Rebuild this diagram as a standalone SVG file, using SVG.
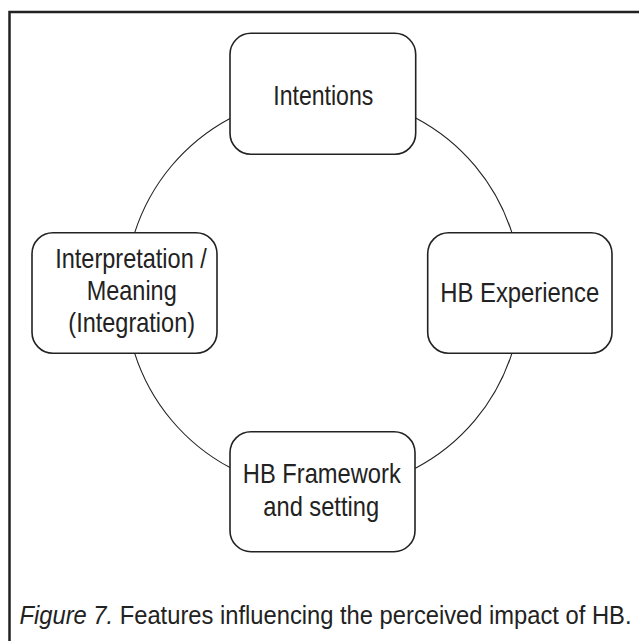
<svg xmlns="http://www.w3.org/2000/svg" width="639" height="641" viewBox="0 0 639 641">
<style>
.box{fill:#fff;stroke:#222;stroke-width:1.6}
.arc{fill:none;stroke:#222;stroke-width:1.1}
.lbl{font-family:"Liberation Sans Narrow","Liberation Sans",Arial,sans-serif;font-size:28.5px;fill:#222;text-anchor:middle}
.cap{font-family:"Liberation Sans Narrow","Liberation Sans",Arial,sans-serif;font-size:25px;fill:#222}
</style>
<rect width="639" height="641" fill="#fff"/>
<rect x="9.5" y="12" width="660" height="660" fill="none" stroke="#222" stroke-width="2.5"/>
<g id="connectors">
<path class="arc" d="M415.7,117.9 A198,198 0 0 1 511.9,232.7"/>
<path class="arc" d="M511.9,353.3 A198,198 0 0 1 415,468.5"/>
<path class="arc" d="M230,467.6 A198,198 0 0 1 134.7,353.3"/>
<path class="arc" d="M134.7,232.7 A198,198 0 0 1 230,118.4"/>
</g>
<g id="intentions">
<rect class="box" x="230" y="33.3" width="185.7" height="121" rx="21"/>
<text class="lbl" x="323.3" y="105" textLength="100" lengthAdjust="spacingAndGlyphs">Intentions</text>
</g>
<g id="hb-experience">
<rect class="box" x="427.7" y="232.7" width="184.3" height="120.6" rx="21"/>
<text class="lbl" x="519.8" y="302" textLength="159" lengthAdjust="spacingAndGlyphs">HB Experience</text>
</g>
<g id="hb-framework">
<rect class="box" x="230" y="431.7" width="185" height="120" rx="21"/>
<text class="lbl" x="321.8" y="483.3" textLength="158" lengthAdjust="spacingAndGlyphs">HB Framework</text>
<text class="lbl" x="321.2" y="516" textLength="115.7" lengthAdjust="spacingAndGlyphs">and setting</text>
</g>
<g id="interpretation">
<rect class="box" x="32" y="232.7" width="185" height="120.6" rx="21"/>
<text class="lbl" x="131" y="267.7" textLength="151.7" lengthAdjust="spacingAndGlyphs">Interpretation /</text>
<text class="lbl" x="131.7" y="300" textLength="90" lengthAdjust="spacingAndGlyphs">Meaning</text>
<text class="lbl" x="131.7" y="332" textLength="126.7" lengthAdjust="spacingAndGlyphs">(Integration)</text>
</g>
<text class="cap" x="19.5" y="624" textLength="612" lengthAdjust="spacingAndGlyphs"><tspan font-style="italic">Figure 7.</tspan> Features influencing the perceived impact of HB.</text>
</svg>
